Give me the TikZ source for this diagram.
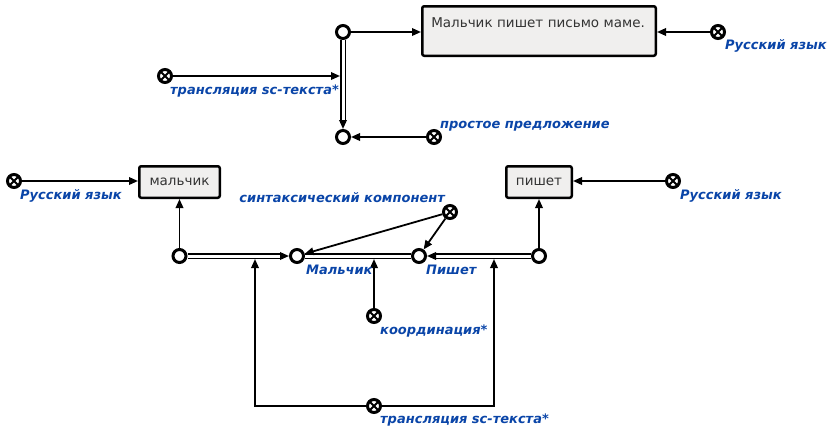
\documentclass[tikz,border=0pt]{standalone}
\usepackage{fontspec}
\setmainfont{DejaVu Sans}
\usetikzlibrary{arrows.meta, positioning, calc}
\definecolor{sclabel}{HTML}{0A45A8}
\definecolor{scfill}{HTML}{F0EFEE}
\definecolor{sctext}{HTML}{333333}

\begin{document}
\begin{tikzpicture}[x=1pt, y=-1pt,
    var/.style={circle, draw, line width=3pt, fill=white, minimum size=13pt, inner sep=0pt},
    cnst/.style={var, path picture={
        \draw[line width=2pt] ([shift={(-4pt,-4pt)}]path picture bounding box.center) -- ++(8pt,8pt)
            ([shift={(-4pt,4pt)}]path picture bounding box.center) -- ++(8pt,-8pt);}},
    sbox/.style={draw, line width=2.5pt, rounded corners=2pt, fill=scfill, text=sctext,
        font=\fontsize{13.5}{15}\selectfont, inner sep=0pt,
        path picture={\fill (path picture bounding box.north west) -- ++(7pt,0pt) -- ++(-7pt,-7pt) -- cycle;}},
    lbl/.style={font=\fontsize{13}{15}\selectfont\bfseries\itshape, text=sclabel, inner sep=0pt},
    arr/.style={-{Triangle[length=9pt, width=7.5pt]}, line width=1.8pt},
    pair/.style={double=white, double distance=3pt, line width=1.6pt},
]
\useasboundingbox (0,0) rectangle (835,437);

% Sentence
\node[sbox, text width=215.5pt, inner xsep=9pt, inner ysep=3pt, text height=18.5pt, text depth=25pt, align=left]
    (sent) at (539,31) {Мальчик пишет письмо маме.};
\node[var] (A) at (343,32) {};
\node[var] (B) at (343,137) {};
\node[cnst] (RL1) at (718,32) {};
\node[cnst] (T1) at (165,76) {};
\node[cnst] (P) at (434,137) {};
\coordinate (ab) at (343,76);

\draw[arr] (A) -- (A -| sent.west);
\draw[arr] (RL1) -- (RL1 -| sent.east);
\draw[pair, shorten >=8.5pt] (A) -- (B);
\draw[arr] ($(B)!16pt!(A)$) -- (B);
\draw[arr, shorten >=3pt] (T1) -- (ab);
\draw[arr] (P) -- (B);

\node[lbl, anchor=base west] (lblRL1) at (725,49) {Русский язык};
\node[lbl, anchor=base west] (lblT1) at (170,94) {трансляция sc-текста*};
\node[lbl, anchor=base west] (lblP) at (440,128) {простое предложение};

% Words
\node[sbox, minimum width=80.5pt, minimum height=31.5pt] (boy) at (179.5,182) {мальчик};
\node[sbox, minimum width=65.5pt, minimum height=31.5pt] (write) at (539,182) {пишет};
\node[cnst] (RL2) at (14,181) {};
\node[cnst] (RL3) at (673,181) {};
\draw[arr] (RL2) -- (RL2 -| boy.west);
\draw[arr] (RL3) -- (RL3 -| write.east);

\node[lbl, anchor=base west] (lblRL2) at (20,199) {Русский язык};
\node[lbl, anchor=base west] (lblRL3) at (680,199) {Русский язык};

% Syntax components
\node[var] (C) at (179.5,256) {};
\node[var] (M) at (297,256) {};
\node[var] (N) at (419,256) {};
\node[var] (D) at (539,256) {};
\node[cnst] (S) at (450,212) {};
\node[cnst] (K) at (374,316) {};
\node[cnst] (T2) at (374,406) {};
\coordinate (cm) at (255,256);
\coordinate (mn) at (374,256);
\coordinate (dn) at (494,256);

\draw[arr] (C) -- (boy);
\draw[arr] (D) -- (write);
\draw[pair, shorten >=8.5pt] (C) -- (M);
\draw[arr] ($(M)!16pt!(C)$) -- (M);
\draw[pair, shorten >=8.5pt] (D) -- (N);
\draw[arr] ($(N)!16pt!(D)$) -- (N);
\draw[pair] (M) -- (N);
\draw[arr] (S) -- (M);
\draw[arr] (S) -- (N);
\draw[arr, shorten >=3pt] (K) -- (mn);
\draw[arr, shorten >=3pt] (T2) -| (cm);
\draw[arr, shorten >=3pt] (T2) -| (dn);

\node[lbl, anchor=base east] (lblS) at (445,202) {синтаксический компонент};
\node[lbl, anchor=base west] (lblM) at (306,274) {Мальчик};
\node[lbl, anchor=base west] (lblN) at (426,274) {Пишет};
\node[lbl, anchor=base west] (lblK) at (380,334) {координация*};
\node[lbl, anchor=base west] (lblT2) at (380,423) {трансляция sc-текста*};
\end{tikzpicture}
\end{document}
